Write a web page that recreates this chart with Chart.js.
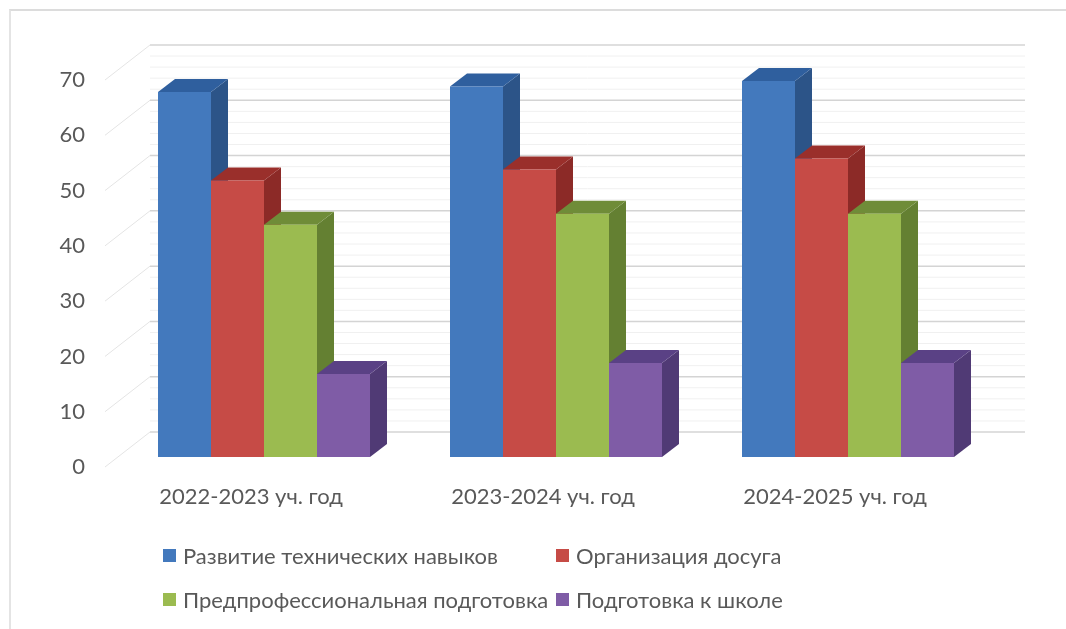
<!DOCTYPE html>
<html lang="ru">
<head>
<meta charset="utf-8">
<title>Chart</title>
<script src="https://cdn.jsdelivr.net/npm/chart.js@4"></script>
<style>
  html, body { margin: 0; padding: 0; background: #fff; overflow: hidden; }
  #wrap { position: relative; width: 1066px; height: 629px; }
  #frame { position: absolute; left: 9px; top: 9px; right: 0; bottom: 0;
           border-top: 2px solid #dcdcdc; border-left: 2px solid #e4e4e4; }
  #legend { position: absolute; left: 163px; top: 533px; display: grid;
            grid-template-columns: 393px 300px; grid-auto-rows: 44px;
            font: 22px Lato, sans-serif; color: #595959; }
  .item { display: flex; align-items: center; white-space: nowrap; }
  .box { width: 13px; height: 13px; margin-right: 7px; flex: none; }
</style>
</head>
<body>
<div id="wrap">
  <div id="frame"></div>
  <canvas id="chart" width="1066" height="629"></canvas>
  <div id="legend"></div>
</div>
<script>
// ===== Data =====
const categories = ["2022-2023 уч. год", "2023-2024 уч. год", "2024-2025 уч. год"];
const technical = [66, 67, 68];
const leisure = [50, 52, 54];
const preprofessional = [42, 44, 44];
const school = [15, 17, 17];
const seriesNames = ["Развитие технических навыков", "Организация досуга", "Предпрофессиональная подготовка", "Подготовка к школе"];

// ===== Colours (front, top, side) =====
const frontColors = ["#4379bd", "#c64b46", "#9bbb50", "#7f5ca6"];
const topColors = ["#2f5f9e", "#9a2f2b", "#6f8c38", "#5a4185"];
const sideColors = ["#2c5488", "#8c2a27", "#648032", "#503a75"];

// ===== Depth of the fake 3D =====
const BAR_DX = 17, BAR_DY = 13;   // bar depth
const WALL_DX = 45, WALL_DY = 35; // side wall depth
const SHIFT_X = 13, SHIFT_Y = -10; // bars stand inside the floor, not on its front edge

function drawWalls(chart) {
  const { ctx, chartArea, scales } = chart;
  const y = scales.y;
  ctx.save();
  for (let v = 0; v <= 70; v += 2) {
    const major = v % 10 === 0;
    const py = y.getPixelForValue(v);
    ctx.beginPath();
    ctx.moveTo(chartArea.left + WALL_DX, py - WALL_DY);
    ctx.lineTo(chartArea.right + WALL_DX - 1, py - WALL_DY);
    ctx.strokeStyle = major ? "#d4d4d4" : "#f0f0f0";
    ctx.lineWidth = major ? 1.5 : 1;
    ctx.stroke();
    if (major) {
      ctx.beginPath();
      ctx.moveTo(chartArea.left, py);
      ctx.lineTo(chartArea.left + WALL_DX, py - WALL_DY);
      ctx.strokeStyle = "#e4e4e4";
      ctx.lineWidth = 1;
      ctx.stroke();
    }
  }
  ctx.restore();
}

function drawFaces(ctx, meta, i) {
  meta.data.forEach(bar => {
    const left = bar.x - bar.width / 2;
    const right = bar.x + bar.width / 2;
    // side
    ctx.fillStyle = sideColors[i];
    ctx.beginPath();
    ctx.moveTo(right, bar.y);
    ctx.lineTo(right + BAR_DX, bar.y - BAR_DY);
    ctx.lineTo(right + BAR_DX, bar.base - BAR_DY);
    ctx.lineTo(right, bar.base);
    ctx.closePath();
    ctx.fill();
    // top
    ctx.fillStyle = topColors[i];
    ctx.beginPath();
    ctx.moveTo(left, bar.y);
    ctx.lineTo(left + BAR_DX, bar.y - BAR_DY);
    ctx.lineTo(right + BAR_DX, bar.y - BAR_DY);
    ctx.lineTo(right, bar.y);
    ctx.closePath();
    ctx.fill();
  });
}

const bars3d = {
  id: "bars3d",
  beforeDatasetsDraw(chart) {
    drawWalls(chart);
    // left bar first, so that the next one covers its side
    const ctx = chart.ctx;
    ctx.save();
    ctx.translate(SHIFT_X, SHIFT_Y);
    chart.data.datasets.forEach((ds, i) => {
      const meta = chart.getDatasetMeta(i);
      drawFaces(ctx, meta, i);
      meta.controller.draw();
    });
    ctx.restore();
  },
  beforeDatasetDraw() {
    return false; // already drawn above
  }
};

// ===== Chart =====
const seriesValues = [technical, leisure, preprofessional, school];
const chart = new Chart(document.getElementById("chart"), {
  type: "bar",
  data: {
    labels: categories,
    datasets: seriesValues.map((values, i) => ({
      label: seriesNames[i],
      data: values,
      backgroundColor: frontColors[i],
      borderWidth: 0
    }))
  },
  options: {
    responsive: false,
    animation: false,
    layout: { padding: { top: 80, right: 85, bottom: 122, left: 0 } },
    plugins: { legend: { display: false }, tooltip: { enabled: false } },
    datasets: { bar: { barPercentage: 1, categoryPercentage: 212 / 292 } },
    scales: {
      x: {
        grid: { display: false, drawTicks: false },
        border: { display: false },
        afterFit(scale) { scale.height = 40; },
        ticks: { color: "#595959", padding: 17, maxRotation: 0, autoSkip: false, font: { family: "Lato", size: 22 } }
      },
      y: {
        min: 0,
        max: 70,
        grid: { display: false, drawTicks: false },
        border: { display: false },
        afterFit(scale) { scale.width = 105; },
        ticks: { stepSize: 10, color: "#595959", padding: 20, font: { family: "Lato", size: 22 } }
      }
    }
  },
  plugins: [bars3d]
});

// ===== Legend =====
const legendEl = document.getElementById("legend");
chart.data.datasets.forEach(ds => {
  const item = document.createElement("div");
  item.className = "item";
  item.innerHTML = `<span class="box" style="background:${ds.backgroundColor}"></span><span>${ds.label}</span>`;
  legendEl.appendChild(item);
});
</script>
</body>
</html>
